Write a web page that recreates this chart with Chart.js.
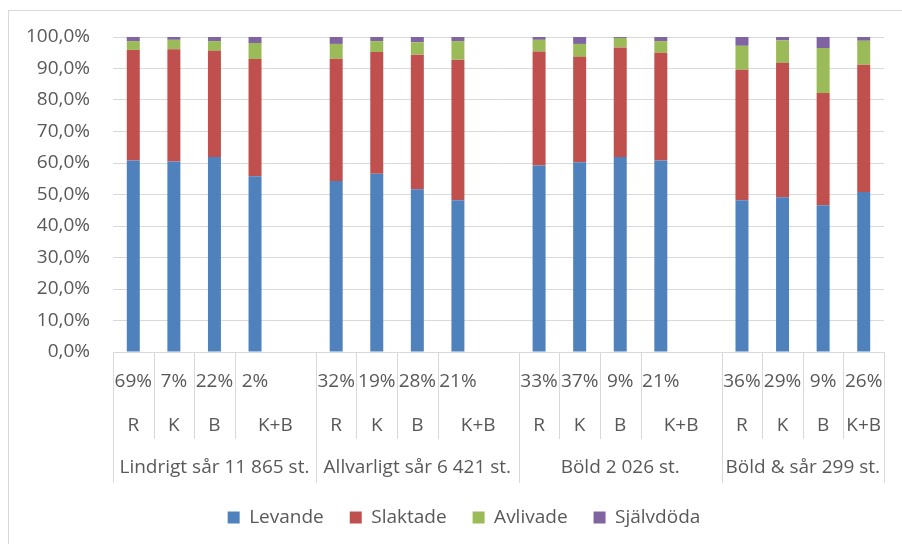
<!DOCTYPE html>
<html>
<head>
<meta charset="utf-8">
<script src="https://cdn.jsdelivr.net/npm/chart.js@4"></script>
<style>
  body { margin: 0; background: #fff; }
  #frame { position: absolute; left: 8px; top: 10px; width: 1000px; height: 1000px; border: 1px solid #d9d9d9; }
  #wrap { position: absolute; left: 0; top: 0; width: 902px; height: 544px; }
</style>
</head>
<body>
<div id="frame"></div>
<div id="wrap"><canvas id="chart"></canvas></div>
<script>
// category levels; '' continues the label on its left (empty spacer slots between groups)
const shares = ['69%', '7%', '22%', '2%', '',
                '32%', '19%', '28%', '21%', '',
                '33%', '37%', '9%', '21%', '',
                '36%', '29%', '9%', '26%'];
const kinds = ['R', 'K', 'B', 'K+B', '',
               'R', 'K', 'B', 'K+B', '',
               'R', 'K', 'B', 'K+B', '',
               'R', 'K', 'B', 'K+B'];
const groups = ['Lindrigt sår 11 865 st.', '', '', '', '',
                'Allvarligt sår 6 421 st.', '', '', '', '',
                'Böld 2 026 st.', '', '', '', '',
                'Böld & sår 299 st.', '', '', ''];

// share of animals per outcome, percent
const levande   = [60.8, 60.5, 61.9, 55.8, null, 54.3, 56.6, 51.7, 48.2, null, 59.2, 60.2, 61.9, 60.8, null, 48.2, 49.1, 46.6, 50.8];
const slaktade  = [35.1, 35.6, 33.7, 37.2, null, 38.8, 38.6, 42.7, 44.6, null, 36.2, 33.5, 34.8, 34.2, null, 41.4, 42.7, 35.6, 40.4];
const avlivade  = [2.8, 3.0, 3.1, 5.1, null, 4.7, 3.5, 3.9, 5.9, null, 3.7, 4.1, 3.0, 3.7, null, 7.6, 7.1, 14.3, 7.6];
const sjalvdoda = [1.3, 0.9, 1.3, 1.9, null, 2.2, 1.3, 1.7, 1.3, null, 0.9, 2.2, 0.3, 1.3, null, 2.8, 1.1, 3.5, 1.2];

const FONT = '"Open Sans", "Noto Sans", sans-serif';
const TEXT = '#595959';
const LINE = '#d9d9d9';

function spans(list) {
  const out = [];
  list.forEach((t, i) => {
    if (t !== '' || out.length === 0) out.push({ text: t, start: i, end: i });
    else out[out.length - 1].end = i;
  });
  return out;
}

// three rows of category labels under the x axis, with separators
const multiLevelLabels = {
  id: 'multiLevelLabels',
  afterLayout(chart) {
    // legend sits a bit right of the canvas centre
    chart.legend.left += 22;
    chart.legend.right += 22;
  },
  afterDraw(chart) {
    const x = chart.scales.x;
    const ctx = chart.ctx;
    const step = x.getPixelForValue(1) - x.getPixelForValue(0);
    const edge = i => x.getPixelForValue(i) - step / 2;
    const top = x.top;

    ctx.save();
    ctx.strokeStyle = LINE;
    ctx.lineWidth = 1;
    const vline = (px, len) => {
      const xx = Math.round(px) + 0.5;
      ctx.beginPath();
      ctx.moveTo(xx, top);
      ctx.lineTo(xx, top + len);
      ctx.stroke();
    };
    const kindSpans = spans(kinds);
    kindSpans.forEach(s => vline(edge(s.start), 87));
    const groupSpans = spans(groups);
    groupSpans.forEach(s => vline(edge(s.start), 131));
    vline(edge(shares.length), 131);

    ctx.fillStyle = TEXT;
    ctx.font = '19px ' + FONT;
    ctx.textAlign = 'center';
    ctx.textBaseline = 'middle';
    shares.forEach((t, i) => { if (t) ctx.fillText(t, x.getPixelForValue(i), top + 30); });
    kindSpans.forEach(s => ctx.fillText(s.text, (edge(s.start) + edge(s.end + 1)) / 2, top + 74));
    groupSpans.forEach(s => ctx.fillText(s.text, (edge(s.start) + edge(s.end + 1)) / 2, top + 116));
    ctx.restore();
  }
};

const series = [
  { label: 'Levande', data: levande, color: '#4f81bd' },
  { label: 'Slaktade', data: slaktade, color: '#c0504d' },
  { label: 'Avlivade', data: avlivade, color: '#9bbb59' },
  { label: 'Självdöda', data: sjalvdoda, color: '#8064a2' }
];

new Chart(document.getElementById('chart'), {
  type: 'bar',
  data: {
    labels: kinds.map((k, i) => k + ' ' + shares[i]),
    datasets: series.map(s => ({
      label: s.label,
      data: s.data,
      backgroundColor: s.color,
      borderWidth: 0,
      barPercentage: 0.32,
      categoryPercentage: 1
    }))
  },
  options: {
    responsive: true,
    maintainAspectRatio: false,
    animation: false,
    layout: { padding: { left: 0, right: 18, top: 37, bottom: 7 } },
    plugins: {
      tooltip: { enabled: false },
      legend: {
        position: 'bottom',
        labels: {
          color: TEXT,
          font: { family: FONT, size: 19 },
          boxWidth: 12,
          boxHeight: 12,
          padding: 26
        }
      }
    },
    scales: {
      x: {
        stacked: true,
        grid: { display: false },
        border: { color: LINE },
        ticks: { display: false },
        afterFit: scale => { scale.height = 130; }
      },
      y: {
        stacked: true,
        min: 0,
        max: 100,
        grid: { color: LINE, drawTicks: false },
        border: { display: false },
        ticks: {
          stepSize: 10,
          padding: 23,
          color: TEXT,
          font: { family: FONT, size: 19 },
          callback: v => v.toFixed(1).replace('.', ',') + '%'
        },
        afterFit: scale => { scale.width = 113; }
      }
    }
  },
  plugins: [multiLevelLabels]
});
</script>
</body>
</html>
